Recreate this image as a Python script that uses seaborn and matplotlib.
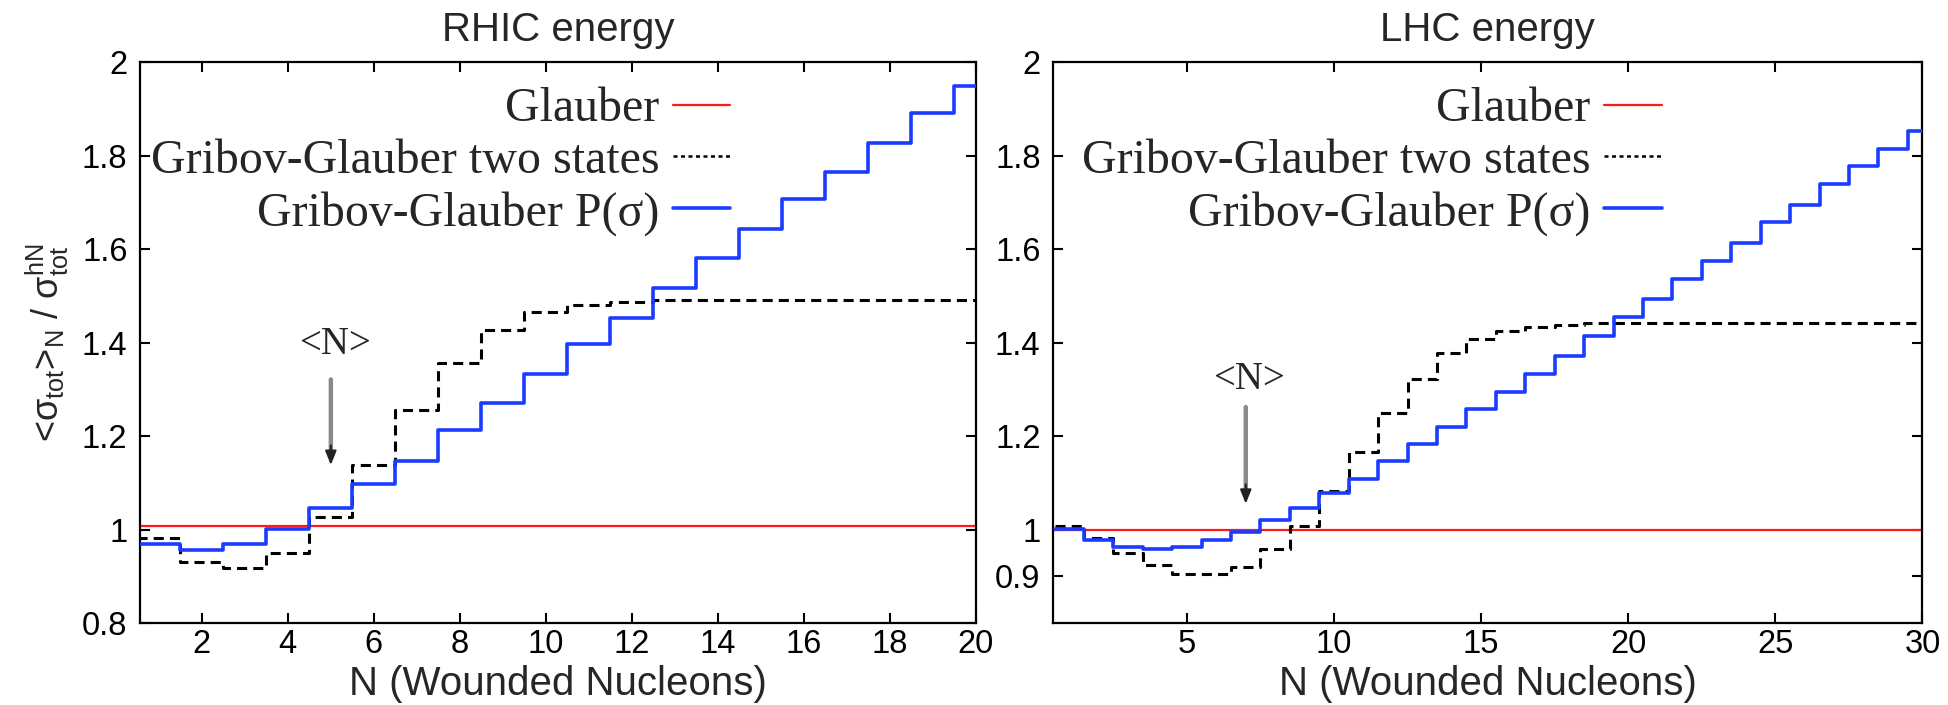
import numpy as np
import matplotlib
matplotlib.use("Agg")
import matplotlib.pyplot as plt
from matplotlib.ticker import FuncFormatter
import seaborn as sns

# ---- data: <sigma_tot>_N / sigma_tot^hN versus number of wounded nucleons ----
N_RHIC = list(range(1, 21))
RHIC_TWO_STATES = [0.981, 0.931, 0.918, 0.950, 1.026, 1.137, 1.256, 1.357, 1.427, 1.466,
                   1.480, 1.486, 1.491, 1.491, 1.491, 1.491, 1.491, 1.491, 1.491, 1.491]
RHIC_P_SIGMA = [0.969, 0.957, 0.969, 1.001, 1.045, 1.097, 1.147, 1.212, 1.270, 1.333,
                1.396, 1.453, 1.517, 1.580, 1.643, 1.707, 1.765, 1.827, 1.890, 1.949]
RHIC_GLAUBER = 1.008

N_LHC = list(range(1, 31))
LHC_TWO_STATES = [1.008, 0.981, 0.950, 0.924, 0.904, 0.904, 0.920, 0.958, 1.007, 1.083,
                  1.166, 1.249, 1.322, 1.377, 1.408, 1.424, 1.434, 1.438, 1.441, 1.441,
                  1.441, 1.441, 1.441, 1.441, 1.441, 1.441, 1.441, 1.441, 1.441, 1.441]
LHC_P_SIGMA = [1.001, 0.977, 0.963, 0.958, 0.963, 0.977, 0.995, 1.020, 1.045, 1.079,
               1.109, 1.147, 1.183, 1.220, 1.257, 1.295, 1.333, 1.371, 1.414, 1.454,
               1.493, 1.536, 1.574, 1.612, 1.657, 1.694, 1.739, 1.777, 1.815, 1.852]
LHC_GLAUBER = 1.0

# mean number of wounded nucleons, marked by an arrow
MEAN_N_RHIC = 5
MEAN_N_LHC = 7

LABELS = ["Glauber", "Gribov-Glauber two states", "Gribov-Glauber P(σ)"]
TITLES = ["RHIC energy", "LHC energy"]
XLABEL = "N (Wounded Nucleons)"
YLABEL = "<$σ_{tot}$>$_N$ / $σ_{tot}^{hN}$"
RHIC_XTICKS = list(range(2, 21, 2))
LHC_XTICKS = list(range(5, 31, 5))
RHIC_YTICKS = [0.8, 1.0, 1.2, 1.4, 1.6, 1.8, 2.0]
LHC_YTICKS = [0.9, 1.0, 1.2, 1.4, 1.6, 1.8, 2.0]

# ---- style ----
sns.set_theme(style="ticks")
plt.rcParams["font.family"] = ["Liberation Sans", "DejaVu Sans"]
plt.rcParams["mathtext.fontset"] = "custom"
plt.rcParams["mathtext.rm"] = "Liberation Sans"
plt.rcParams["mathtext.it"] = "Liberation Sans"
plt.rcParams["mathtext.default"] = "rm"
plt.rcParams["axes.edgecolor"] = "black"
plt.rcParams["axes.linewidth"] = 1.6

RED = "#ff1a1a"
BLUE = "#1a3cff"
SERIF = ["Liberation Serif", "DejaVu Serif"]

fig = plt.figure(figsize=(19.49, 7.05), dpi=100)
ax_l = fig.add_axes([0.0718, 0.1163, 0.4289, 0.7957])
ax_r = fig.add_axes([0.5403, 0.1163, 0.4461, 0.7957])


def step_edges(n, vals):
    """Bin edges at half-integers so each value covers [N-0.5, N+0.5]."""
    n = np.asarray(n, dtype=float)
    x = np.append(n - 0.5, n[-1] + 0.5)
    y = np.append(vals, vals[-1])
    return x, y


def draw_panel(ax, n, two_states, p_sigma, glauber, mean_n, arrow_tail, arrow_tip,
               text_y, text_dx, xlim, xticks, yticks, title, legend_x):
    ax.axhline(glauber, color=RED, lw=1.6, label=LABELS[0], zorder=2)
    x, y = step_edges(n, two_states)
    sns.lineplot(x=x, y=y, ax=ax, drawstyle="steps-post", color="black", lw=2.2,
                 linestyle=(0, (3.3, 2.0)), label=LABELS[1], zorder=3)
    x, y = step_edges(n, p_sigma)
    sns.lineplot(x=x, y=y, ax=ax, drawstyle="steps-post", color=BLUE, lw=2.6,
                 label=LABELS[2], zorder=4)

    # <N> marker arrow
    ax.annotate("", xy=(mean_n, arrow_tip), xytext=(mean_n, arrow_tail),
                arrowprops=dict(arrowstyle="-", color="#8a8a8a", lw=3.2,
                                shrinkA=0, shrinkB=6))
    ax.annotate("", xy=(mean_n, arrow_tip), xytext=(0, 14), textcoords="offset points",
                arrowprops=dict(arrowstyle="-|>,head_length=0.7,head_width=0.28",
                                color="#222222", lw=1.5, shrinkA=0, shrinkB=0))
    ax.text(mean_n + text_dx, text_y, "<N>", ha="center", va="center",
            family=SERIF, fontsize=28)

    ax.set_xlim(*xlim)
    ax.set_ylim(0.8, 2.0)
    ax.set_xticks(xticks)
    ax.set_yticks(yticks)
    ax.yaxis.set_major_formatter(FuncFormatter(lambda v, _: f"{v:g}"))
    ax.tick_params(direction="in", length=7, width=1.5, top=True, right=True,
                   labelsize=23.5, colors="black")
    ax.tick_params(axis="x", pad=4)
    ax.tick_params(axis="y", pad=9)
    ax.set_title(title, fontsize=29, pad=15)
    ax.set_xlabel(XLABEL, fontsize=29, labelpad=4)
    ax.set_ylabel("")

    handles, labels = ax.get_legend_handles_labels()
    order = [labels.index(lab) for lab in LABELS]
    leg = ax.legend([handles[i] for i in order], [labels[i] for i in order],
                    loc="upper right", bbox_to_anchor=(legend_x, 0.955),
                    frameon=False, markerfirst=False, borderaxespad=0, borderpad=0,
                    handlelength=1.2, handletextpad=0.28, labelspacing=0.16,
                    prop={"family": SERIF, "size": 34.5})
    for col in leg._legend_handle_box.get_children():
        col.align = "right"
    # finer dash pattern for the legend sample of the two-state curve
    leg.get_lines()[1].set_linestyle((0, (1.6, 1.4)))
    leg.get_lines()[1].set_linewidth(1.8)


draw_panel(ax_l, N_RHIC, RHIC_TWO_STATES, RHIC_P_SIGMA, RHIC_GLAUBER, MEAN_N_RHIC,
           1.321, 1.138, 1.395, 0.1, (0.56, 20), RHIC_XTICKS, RHIC_YTICKS, TITLES[0], 0.706)
draw_panel(ax_r, N_LHC, LHC_TWO_STATES, LHC_P_SIGMA, LHC_GLAUBER, MEAN_N_LHC,
           1.262, 1.055, 1.32, 0.12, (0.45, 30), LHC_XTICKS, LHC_YTICKS, TITLES[1], 0.700)

ax_l.set_ylabel(YLABEL, fontsize=26, labelpad=8)

fig.savefig("out.png", dpi=100)
